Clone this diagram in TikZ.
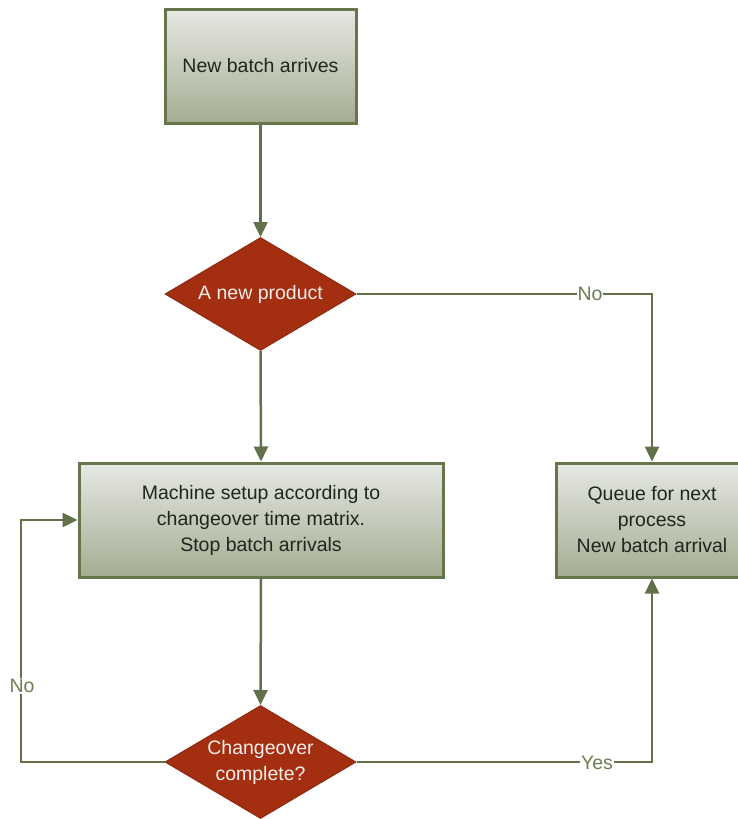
\documentclass[tikz,border=0pt]{standalone}
\usepackage{fontspec}
\setmainfont{Liberation Sans}
\usetikzlibrary{shapes.geometric,arrows.meta}
\definecolor{edgegreen}{HTML}{66764A}
\definecolor{linegreen}{HTML}{627149}
\definecolor{boxtop}{HTML}{E6E8E3}
\definecolor{boxbot}{HTML}{A4AD92}
\definecolor{rust}{HTML}{A32E10}
\definecolor{rustedge}{HTML}{8E2A12}
\definecolor{txtdark}{HTML}{1E261E}
\definecolor{labgreen}{HTML}{6E7D50}
\tikzset{
  procbox/.style={draw=edgegreen, line width=3pt, top color=boxtop, bottom color=boxbot,
    minimum height=114pt, inner sep=0pt, align=center, text=txtdark,
    font=\fontsize{19.5}{26}\selectfont},
  decbox/.style={shape=diamond, draw=rustedge, line width=1pt, fill=rust,
    minimum width=191pt, minimum height=113pt, inner sep=0pt},
  dectext/.style={align=center, text=white!92!rust, font=\fontsize{19.5}{26}\selectfont},
  conn/.style={draw=linegreen, line width=2.5pt, -{Triangle[length=15pt,width=14pt]}},
  connlabel/.style={fill=white, inner sep=1pt, text=labgreen, font=\fontsize{19.5}{24}\selectfont}
}
\begin{document}
\begin{tikzpicture}[x=1pt,y=-1pt]
\useasboundingbox (0,0) rectangle (737,819);
\node[procbox, minimum width=191pt] (b1) at (260.5,66) {New batch arrives};
\node[decbox] (d1) at (260.5,294) {};
\node[dectext] (t1) at (d1.center) {A new product};
\node[procbox, minimum width=364pt] (b2) at (261,520) {Machine setup according to\\changeover time matrix.\\Stop batch arrivals};
\node[procbox, minimum width=192pt] (b3) at (652,520) {Queue for next\\process\\New batch arrival};
\node[decbox] (d2) at (260.5,762) {};
\node[dectext] (t2) at (d2.center) {Changeover\\complete?};
\coordinate (k1) at (652,294);
\coordinate (k2) at (21,762);
\coordinate (k3) at (652,762);
\draw[conn] (b1.south) -- (d1.north);
\draw[conn] (d1.south) -- (b2.north);
\draw[conn] (b2.south) -- (d2.north);
\draw[conn] (d1.east) -- (k1) -- (b3.north);
\draw[conn] (d2.west) -- (k2) |- (b2.west);
\draw[conn] (d2.east) -- (k3) -- (b3.south);
\node[connlabel] (l1) at (590,294) {No};
\node[connlabel] (l2) at (22,686) {No};
\node[connlabel] (l3) at (597,763) {Yes};
\end{tikzpicture}
\end{document}
